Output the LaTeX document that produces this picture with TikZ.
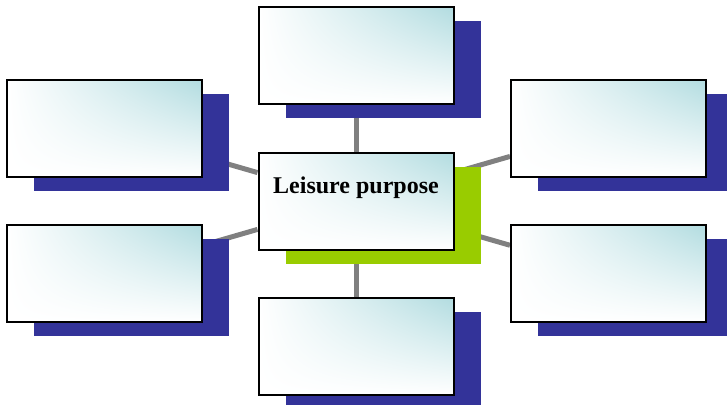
\documentclass[tikz,border=0pt]{standalone}
\usepackage{fontspec}
\setmainfont{Liberation Serif}
\usepackage{tikz}
\usetikzlibrary{positioning, shadows, shadings, backgrounds}

\definecolor{boxcyan}{RGB}{178,220,224}
\definecolor{shadowblue}{RGB}{51,51,153}
\definecolor{shadowgreen}{RGB}{153,204,0}
\definecolor{linkgray}{RGB}{128,128,128}

\begin{document}
\begin{tikzpicture}[
    x=1pt, y=-1pt,
    on grid,
    idea/.style={rectangle, draw=black, line width=2pt,
      minimum width=195pt, minimum height=97pt, inner sep=0pt,
      upper right=boxcyan, upper left=white, lower left=white, lower right=white},
    blueidea/.style={idea,
      general shadow={fill=shadowblue, shadow xshift=27pt, shadow yshift=-14pt}},
    mainidea/.style={idea, font=\fontsize{24}{28}\selectfont\bfseries,
      text height=17pt, text depth=33pt,
      general shadow={fill=shadowgreen, shadow xshift=27pt, shadow yshift=-14pt}},
    link/.style={draw=linkgray, line width=5pt}
]
  \useasboundingbox (0,0) rectangle (727,404);

  % central topic
  \node[mainidea] (leisure) at (356,201) {Leisure purpose};

  % surrounding boxes
  \node[blueidea] (top)   [above=145.5pt of leisure] {};
  \node[blueidea] (bot)   [below=145pt of leisure] {};
  \node[blueidea] (ltop)  [above left=72.5pt and 251.5pt of leisure] {};
  \node[blueidea] (lbot)  [below left=72.5pt and 251.5pt of leisure] {};
  \node[blueidea] (rtop)  [above right=73pt and 252.5pt of leisure] {};
  \node[blueidea] (rbot)  [below right=72.5pt and 252.5pt of leisure] {};

  % connectors behind everything
  \begin{pgfonlayer}{background}
    \foreach \n in {top, bot, ltop, lbot, rtop, rbot}
      \path[link] (leisure) -- (\n);
  \end{pgfonlayer}
\end{tikzpicture}
\end{document}
